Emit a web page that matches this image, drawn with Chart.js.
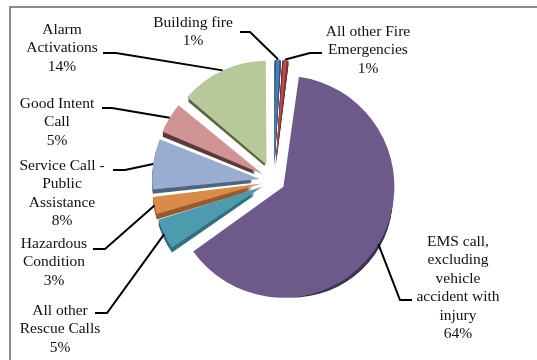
<!DOCTYPE html>
<html>
<head>
<meta charset="utf-8">
<script src="https://cdn.jsdelivr.net/npm/chart.js@4.4.1/dist/chart.umd.min.js"></script>
<style>
  html, body { margin: 0; padding: 0; background: #fff; }
</style>
</head>
<body>
<canvas id="myChart" width="537" height="360"></canvas>
<script>
// call types and their share of all calls (%)
const categories = [
    'Building fire',
    'All other Fire Emergencies',
    'EMS call, excluding vehicle accident with injury',
    'All other Rescue Calls',
    'Hazardous Condition',
    'Service Call - Public Assistance',
    'Good Intent Call',
    'Alarm Activations'
];
const percentages = [1, 1, 64, 5, 3, 8, 5, 14];

// top face and side colours of each slice
const sliceColors = ['#4a7ebb', '#b84d4a', '#6e5a8a', '#4c9bae', '#da8a4a', '#98adcf', '#cf9493', '#b7c99a'];
const sideColors = ['#2f5680', '#7a2f2d', '#3f3252', '#337080', '#9a5a2e', '#4f6480', '#5b3b3c', '#5a6342'];

// label text, split the way it wraps beside the pie
const labelLines = [
    ['Building fire'],
    ['All other Fire', 'Emergencies'],
    ['EMS call,', 'excluding', 'vehicle', 'accident with', 'injury'],
    ['All other', 'Rescue Calls'],
    ['Hazardous', 'Condition'],
    ['Service Call -', 'Public', 'Assistance'],
    ['Good Intent', 'Call'],
    ['Alarm', 'Activations']
];

// where each label sits and where its leader line leaves the text
const labelPlaces = [
    { x: 193, y: 23, from: [240, 32], elbow: [250, 32] },
    { x: 368, y: 32, from: [322, 53], elbow: [310, 53] },
    { x: 458, y: 242, from: [412, 300], elbow: [400, 300] },
    { x: 60, y: 311, from: [95, 313], elbow: [107, 313] },
    { x: 54, y: 244, from: [93, 249], elbow: [105, 249] },
    { x: 62, y: 166, from: [113, 170], elbow: [125, 170] },
    { x: 57, y: 104, from: [102, 108], elbow: [112, 108] },
    { x: 62, y: 30, from: [103, 53], elbow: [116, 53] }
];

const EXPLODE = 22;   // distance every slice is pulled out
const DEPTH = 5;      // thickness of the slice sides
const LINE_H = 18.4;
const total = percentages.reduce((a, b) => a + b, 0);

// Chart.js moves an arc by offset/4 * (2 - sin(min(PI, circumference)))
function explodeOffset(ctx) {
    const circ = percentages[ctx.dataIndex] / total * Math.PI * 2;
    return 4 * EXPLODE / (2 - Math.sin(Math.min(Math.PI, circ)));
}

function arcShift(arc) {
    const circ = arc.endAngle - arc.startAngle;
    return (arc.options.offset || 0) / 4 * (2 - Math.sin(Math.min(Math.PI, circ)));
}

const frame = {
    id: 'frame',
    beforeDraw(chart) {
        const c = chart.ctx;
        c.save();
        c.strokeStyle = '#8c8c8c';
        c.lineWidth = 2;
        c.beginPath();
        c.moveTo(10, 360);
        c.lineTo(10, 7);
        c.lineTo(537, 7);
        c.stroke();
        c.restore();
    }
};

// darker copies of each wedge below it give the slices some thickness
const sides = {
    id: 'sides',
    beforeDatasetsDraw(chart) {
        const c = chart.ctx;
        const arcs = chart.getDatasetMeta(0).data;
        arcs.forEach(function (arc, i) {
            const h = (arc.startAngle + arc.endAngle) / 2;
            const t = arcShift(arc);
            const cx = arc.x + Math.cos(h) * t;
            const cy = arc.y + Math.sin(h) * t;
            c.save();
            c.fillStyle = sideColors[i];
            for (let k = DEPTH; k >= 1; k--) {
                c.beginPath();
                c.moveTo(cx, cy + k);
                c.arc(cx, cy + k, arc.outerRadius, arc.startAngle, arc.endAngle);
                c.closePath();
                c.fill();
            }
            c.restore();
        });
    }
};

const labels = {
    id: 'sliceLabels',
    afterDatasetsDraw(chart) {
        const c = chart.ctx;
        const arcs = chart.getDatasetMeta(0).data;
        c.save();
        arcs.forEach(function (arc, i) {
            const place = labelPlaces[i];
            const h = (arc.startAngle + arc.endAngle) / 2;
            const r = arcShift(arc) + arc.outerRadius;
            const px = arc.x + Math.cos(h) * r;
            const py = arc.y + Math.sin(h) * r;

            c.strokeStyle = '#000';
            c.lineWidth = 2;
            c.beginPath();
            c.moveTo(place.from[0], place.from[1]);
            c.lineTo(place.elbow[0], place.elbow[1]);
            c.lineTo(px, py);
            c.stroke();

            const lines = labelLines[i].concat([percentages[i] + '%']);
            c.fillStyle = '#111';
            c.font = '15.5px "Liberation Serif", "Times New Roman", serif';
            c.textAlign = 'center';
            c.textBaseline = 'middle';
            lines.forEach(function (line, j) {
                c.fillText(line, place.x, place.y + j * LINE_H);
            });
        });
        c.restore();
    }
};

const ctx = document.getElementById('myChart').getContext('2d');
const myChart = new Chart(ctx, {
    type: 'pie',
    data: {
        labels: categories,
        datasets: [{
            data: percentages,
            backgroundColor: sliceColors,
            borderWidth: 0,
            offset: explodeOffset,
            radius: 100
        }]
    },
    options: {
        responsive: false,
        animation: false,
        layout: {
            padding: { left: 20, right: 9, top: 10, bottom: 8 }
        },
        plugins: {
            legend: { display: false },
            tooltip: { enabled: false }
        }
    },
    plugins: [frame, sides, labels]
});
</script>
</body>
</html>
